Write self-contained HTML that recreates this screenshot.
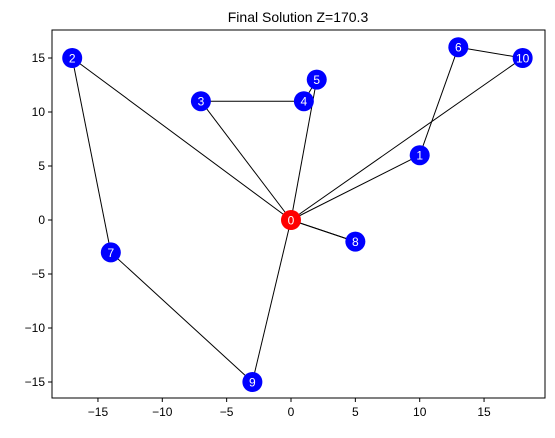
<!DOCTYPE html>
<html><head><meta charset="utf-8"><style>
body{margin:0;background:#fff;width:555px;height:433px;overflow:hidden;font-family:"Liberation Sans","DejaVu Sans",sans-serif}
</style></head><body>
<svg id="c" width="555" height="433" xmlns="http://www.w3.org/2000/svg">
<text x="298" y="22" font-size="14" text-anchor="middle">Final Solution Z=170.3</text>
<g id="edges"></g><g id="nodes"></g><g id="axes"></g>
<rect x="52" y="30" width="493" height="368" fill="none" stroke="#000" stroke-width="1"/>
</svg>
<script>
const nodeIds=[0,1,2,3,4,5,6,7,8,9,10];
const nodeX=[0,10,-17,-7,1,2,13,-14,5,-3,18];
const nodeY=[0,6,15,11,11,13,16,-3,-2,-15,15];
const routes=[[0,2,7,9,0],[0,3,4,5,0],[0,1,6,10,0],[0,8,0]];
const xTicks=[-15,-10,-5,0,5,10,15];
const yTicks=[-15,-10,-5,0,5,10,15];
const sx=v=>291+v*12.87, sy=v=>220-v*10.8;
const NS="http://www.w3.org/2000/svg";
const mk=(t,a,p)=>{const e=document.createElementNS(NS,t);for(const k in a)e.setAttribute(k,a[k]);p.appendChild(e);return e;};
const E=document.getElementById('edges'),N=document.getElementById('nodes'),A=document.getElementById('axes');
routes.forEach((r,ri)=>{for(let i=0;i<r.length-1;i++){const a=r[i],b=r[i+1];
const l=mk('line',{x1:sx(nodeX[a]),y1:sy(nodeY[a]),x2:sx(nodeX[b]),y2:sy(nodeY[b]),stroke:'#000','stroke-width':1},E);

}});
nodeIds.forEach((id,i)=>{
const c=mk('circle',{cx:sx(nodeX[i]),cy:sy(nodeY[i]),r:10,fill:id===0?'#ff0000':'#0000ff'},N);


const t=mk('text',{x:sx(nodeX[i]),y:sy(nodeY[i])+4.5,'font-size':12,fill:'#fff','text-anchor':'middle'},N);
t.textContent=id;

});
xTicks.forEach(v=>{const x=sx(v);
const l=mk('line',{x1:x,y1:398,x2:x,y2:402,stroke:'#000'},A);


const t=mk('text',{x:x,y:416,'font-size':12,'text-anchor':'middle'},A);
t.textContent=v<0?'\u2212'+(-v):v;

});
yTicks.forEach(v=>{const y=sy(v);
const l=mk('line',{x1:48,y1:y,x2:52,y2:y,stroke:'#000'},A);


const t=mk('text',{x:45,y:y+4,'font-size':12,'text-anchor':'end'},A);
t.textContent=v<0?'\u2212'+(-v):v;

});
</script>
</body></html>
